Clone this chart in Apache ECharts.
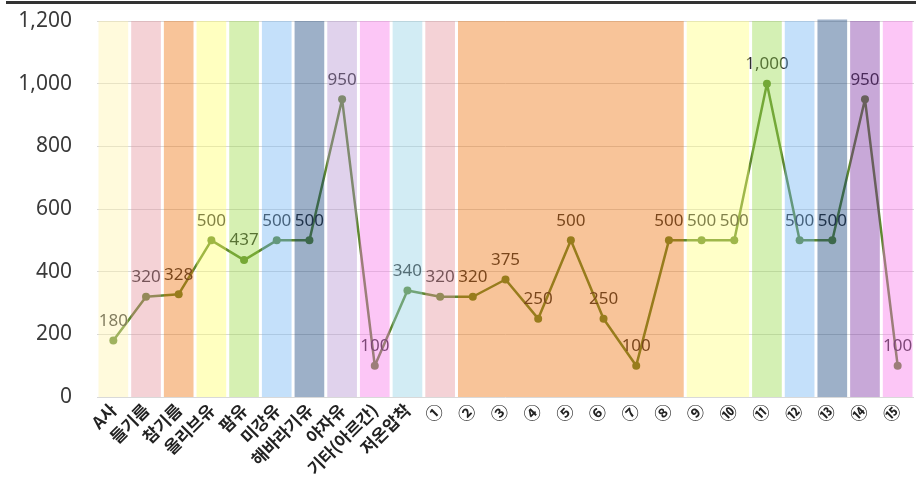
<!DOCTYPE html>
<html>
<head>
<meta charset="utf-8">
<script src="https://cdn.jsdelivr.net/npm/echarts@6/dist/echarts.min.js"></script>
<style>
html,body{margin:0;padding:0;background:#fff;}
#chart{width:922px;height:494px;}
</style>
</head>
<body>
<div id="chart"></div>
<script>
const categories = ['A사','들기름','참기름','올리브유','팜유','미강유','해바라기유','야자유','기타(아르간)','저온압착',
  '①','②','③','④','⑤','⑥','⑦','⑧','⑨','⑩','⑪','⑫','⑬','⑭','⑮'];
const values = [180,320,328,500,437,500,500,950,100,340,320,320,375,250,500,250,100,500,500,500,1000,500,500,950,100];
const yTicks = [0,200,400,600,800,1000,1200];

// background colour bands: first category index, last category index, height, colour
const bandStart = [0,1,2,3,4,5,6,7,8,9,10,11,18,20,21,22,23,24];
const bandEnd   = [0,1,2,3,4,5,6,7,8,9,10,17,19,20,21,22,23,24];
const bandTop   = [1200,1200,1200,1200,1200,1200,1200,1200,1200,1200,1200,1200,1200,1200,1200,1205,1200,1200];
const bandColors = [
  'rgba(255,242,167,0.4)','rgba(228,143,153,0.4)','rgba(237,108,0,0.4)','rgba(255,255,97,0.4)',
  'rgba(152,217,62,0.4)','rgba(107,177,242,0.4)','rgba(10,58,118,0.4)','rgba(177,142,207,0.4)',
  'rgba(247,112,232,0.4)','rgba(142,207,227,0.4)','rgba(228,143,153,0.4)','rgba(237,108,0,0.4)',
  'rgba(255,255,117,0.4)','rgba(147,217,67,0.4)','rgba(107,177,242,0.4)','rgba(10,58,118,0.4)',
  'rgba(118,37,157,0.4)','rgba(247,112,232,0.4)'
];

const bandData = bandStart.map((s,i)=>[s, bandEnd[i], bandTop[i]]);

const chart = echarts.init(document.getElementById('chart'), null, {renderer:'canvas'});
chart.setOption({
  animation:false,
  backgroundColor:'#fff',
  grid:{left:97,right:8,top:21,bottom:97},
  xAxis:{
    type:'category',
    data:categories,
    axisLine:{show:false},
    axisTick:{show:false},
    axisLabel:{
      rotate:45, interval:0, margin:10,
      fontFamily:'"Noto Sans CJK KR", "Noto Sans", sans-serif',
      fontSize:17, fontWeight:'bold', color:'#222'
    }
  },
  yAxis:{
    type:'value', min:yTicks[0], max:yTicks[yTicks.length-1], interval:200,
    axisLine:{show:false}, axisTick:{show:false},
    axisLabel:{
      margin:25, fontSize:21, color:'#3a3a3a',
      fontFamily:'"Noto Sans", "Open Sans", sans-serif',
      formatter:v=>v.toLocaleString('en-US')
    },
    splitLine:{lineStyle:{color:'#d9d9d9',width:1}}
  },
  series:[
    {
      type:'line',
      z:1,
      data:values,
      symbol:'circle', symbolSize:8,
      lineStyle:{color:'#5f8830',width:2.5},
      itemStyle:{color:'#5f8830'},
      label:{
        show:true, position:'top', distance:7,
        fontSize:17, color:'#2e2e2e',
        fontFamily:'"Noto Sans", "Open Sans", sans-serif',
        formatter:p=>p.value.toLocaleString('en-US')
      }
    },
    {
      type:'custom',
      z:5,
      data:bandData,
      encode:{x:[0,1],y:2},
      silent:true,
      renderItem:function(params, api){
        const s = api.value(0), e = api.value(1), top = api.value(2);
        const w = api.size([1,0])[0];
        const p0 = api.coord([s, top]);
        const p1 = api.coord([e, 0]);
        const x0 = p0[0] - w/2 + 1.5;
        const x1 = p1[0] + w/2 - 1.5;
        return {
          type:'rect',
          shape:{x:x0, y:p0[1], width:x1-x0, height:p1[1]-p0[1]},
          style:{fill:bandColors[params.dataIndex]}
        };
      }
    }
  ],
  graphic:[
    {type:'rect', left:6, top:1, shape:{width:910, height:3}, style:{fill:'#333'}}
  ]
});
</script>
</body>
</html>
